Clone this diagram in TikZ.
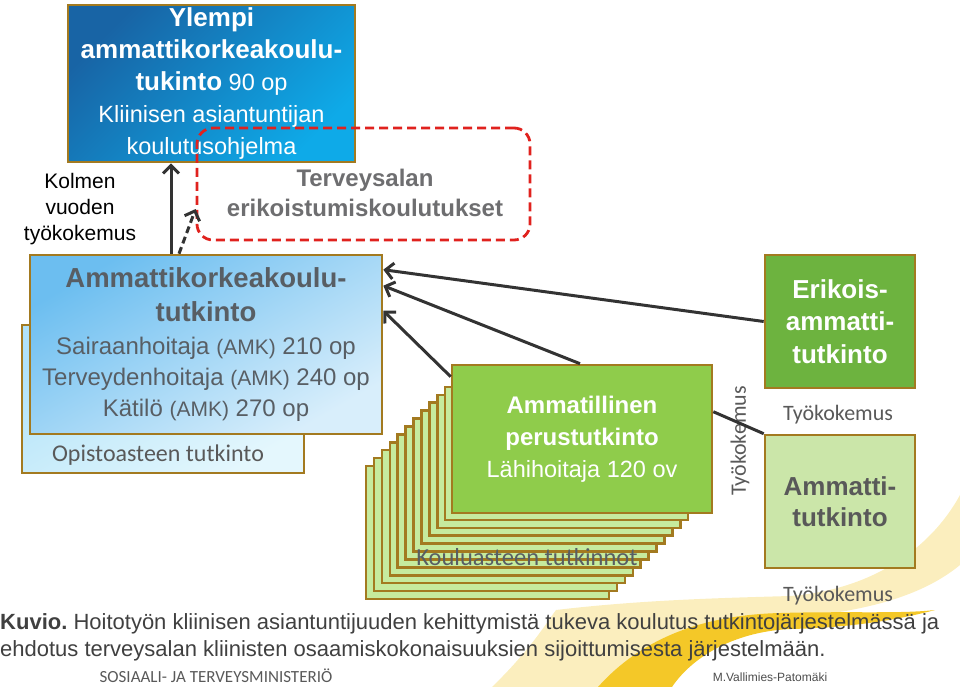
\documentclass[tikz,border=0pt]{standalone}
\usepackage{fontspec}
\setmainfont{Liberation Sans}
\newfontfamily\calib{Carlito}
\usetikzlibrary{arrows.meta}
\frenchspacing

\definecolor{kulta}{RGB}{163,122,32}
\definecolor{tummasin}{RGB}{24,100,165}
\definecolor{kirkassin}{RGB}{14,170,232}
\definecolor{amksin}{RGB}{108,190,240}
\definecolor{amkvaal}{RGB}{216,238,251}
\definecolor{opisto1}{RGB}{176,226,248}
\definecolor{opisto2}{RGB}{228,247,253}
\definecolor{vihrea}{RGB}{143,204,75}
\definecolor{vaalvihr}{RGB}{198,235,158}
\definecolor{tummvihr}{RGB}{109,179,63}
\definecolor{ammvihr}{RGB}{203,230,169}
\definecolor{harmaa}{RGB}{89,89,89}
\definecolor{amkteksti}{RGB}{88,94,100}
\definecolor{tekstiharmaa}{RGB}{110,110,112}
\definecolor{kuvioteksti}{RGB}{64,64,64}
\definecolor{punainen}{RGB}{224,34,30}
\definecolor{keltainen}{RGB}{244,200,40}
\definecolor{vaalkelt}{RGB}{251,238,190}

\begin{document}
\begin{tikzpicture}
        [x=1pt, y=-1pt,
        box/.style={draw=kulta, line width=2.6pt, align=center, inner sep=0pt},
        ylempiBox/.style={box, top color=tummasin, bottom color=kirkassin, shading angle=45, text=white,
                minimum width=287pt, minimum height=157pt, font=\fontsize{23.5}{32}\selectfont},
        amkBox/.style={box, top color=amksin, bottom color=amkvaal, shading angle=30, text=amkteksti,
                minimum width=352pt, minimum height=179pt, font=\fontsize{24}{31}\selectfont},
        opistoBox/.style={box, top color=opisto1, bottom color=opisto2, shading angle=30,
                minimum width=282pt, minimum height=148pt},
        perusBox/.style={box, fill=vihrea, text=white, minimum width=260pt, minimum height=148pt,
                font=\fontsize{23.5}{32}\selectfont},
        kerros/.style={draw=kulta, line width=2.6pt, fill=vaalvihr},
        erikBox/.style={box, fill=tummvihr, text=white, minimum width=150pt, minimum height=133pt,
                font=\bfseries\fontsize{26}{32.5}\selectfont},
        ammBox/.style={box, fill=ammvihr, text=harmaa, minimum width=150pt, minimum height=133pt,
                font=\bfseries\fontsize{26}{31}\selectfont},
        katko/.style={draw=punainen, line width=2.8pt, dash pattern=on 9pt off 5pt, rounded corners=16pt,
                minimum width=333pt, minimum height=112pt},
        tyo/.style={font=\calib\fontsize{22}{26}\selectfont, text=harmaa},
        nuoli/.style={draw=black!80, line width=3pt,
                -{Straight Barb[length=8pt,width=16pt,line width=3pt]}},
        linja/.style={draw=black!80, line width=3pt}]
%
\useasboundingbox (0,0) rectangle (960,687);
%%
%% Background swoosh
%%
\fill[vaalkelt] (492,687) .. controls (530,650) and (545,625) .. (556,610)
        .. controls (640,600) and (720,598) .. (790,596) .. controls (870,590) and (930,550) .. (960,495)
        -- (960,565) .. controls (920,598) and (860,612) .. (790,618)
        .. controls (720,625) and (650,660) .. (620,687) -- cycle;
\fill[keltainen] (598,687) .. controls (640,640) and (700,615) .. (780,613)
        .. controls (850,611) and (900,614) .. (935,610) .. controls (890,622) and (840,628) .. (790,629)
        .. controls (730,632) and (690,660) .. (672,687) -- cycle;
%%
%% Upper part
%%
\node[ylempiBox] (ylempi) at (211.5,83.5)
        {{\bfseries\fontsize{26}{32}\selectfont Ylempi}\\
        {\bfseries\fontsize{26}{32}\selectfont ammattikorkeakoulu-}\\
        {\bfseries\fontsize{26}{32}\selectfont tukinto} 90 op\\
        Kliinisen asiantuntijan\\
        koulutusohjelma};
\node[katko] (erik) at (363.5,184) {};
\node[font=\bfseries\fontsize{24}{30}\selectfont, text=tekstiharmaa, align=center] (erikTxt) at (365,193)
        {Terveysalan\\erikoistumiskoulutukset};
\node[font=\fontsize{21}{26}\selectfont, align=center] (kolmen) at (80,209) {Kolmen\\vuoden\\työkokemus};
%%
%% Ammattikorkeakoulu
%%
\node[opistoBox] (opisto) at (163,399) {};
\node[font=\calib\fontsize{24}{28}\selectfont, text=harmaa] (opistoTxt) at (158,455) {Opistoasteen tutkinto};
\node[amkBox] (amk) at (206,344.5)
        {{\bfseries\fontsize{27.5}{35}\selectfont Ammattikorkeakoulu-}\\[3pt]
        {\bfseries\fontsize{27.5}{35}\selectfont tutkinto}\\[2pt]
        Sairaanhoitaja {\fontsize{21}{31}\selectfont(AMK)} 210 op\\
        Terveydenhoitaja {\fontsize{21}{31}\selectfont(AMK)} 240 op\\
        Kätilö {\fontsize{21}{31}\selectfont(AMK)} 270 op};
%%
%% Kouluasteen tutkinnot
%%
\foreach \i in {11,...,1}
        \draw[kerros] ({453-7.9*\i},{379+7.9*\i}) rectangle +(243,133);
\node[font=\calib\fontsize{24.5}{28}\selectfont, text=amkteksti] (koulu) at (527,557) {Kouluasteen tutkinnot};
\node[perusBox] (perus) at (582,439)
        {{\bfseries\fontsize{24}{32}\selectfont Ammatillinen}\\
        {\bfseries\fontsize{24}{32}\selectfont perustutkinto}\\
        Lähihoitaja 120 ov};
%%
%% Right side
%%
\node[erikBox] (erikois) at (840,321.5) {Erikois-\\ammatti-\\tutkinto};
\node[ammBox] (ammatti) at (840,501.5) {Ammatti-\\tutkinto};
\node[tyo] (tyo1) at (838,415) {Työkokemus};
\node[tyo] (tyo2) at (838,596) {Työkokemus};
\node[tyo, rotate=90] (tyo3) at (740,441) {Työkokemus};
%%
%% Arrows
%%
\draw[nuoli] (erikois.west) -- ([yshift=-16pt]amk.north east);
\draw[nuoli] ([xshift=-2pt]perus.north) -- ([yshift=-32pt]amk.north east);
\draw[nuoli] ([yshift=-13pt]perus.north west) -- ([yshift=-57pt]amk.north east);
\draw[linja] ([yshift=-48pt]perus.north east) -- (ammatti.north west);
\draw[nuoli] ([xshift=-35pt]amk.north) -- ([xshift=-35pt]amk.north |- ylempi.south);
\draw[nuoli, dash pattern=on 7pt off 4pt] ([xshift=-27pt]amk.north) -- ([yshift=-25pt]erik.west);
%%
%% Caption
%%
\node[anchor=north west, inner sep=0pt, align=left, font=\fontsize{22}{27}\selectfont, text=kuvioteksti] (kuvio) at (0,613)
        {\textbf{Kuvio.} Hoitotyön kliinisen asiantuntijuuden kehittymistä tukeva koulutus tutkintojärjestelmässä ja\\
        ehdotus terveysalan kliinisten osaamiskokonaisuuksien sijoittumisesta järjestelmään.};
\node[font=\calib\fontsize{17}{20}\selectfont, text=black!65] (stm) at (216,676) {SOSIAALI- JA TERVEYSMINISTERIÖ};
\node[font=\fontsize{12}{14}\selectfont, text=black!70] (tekija) at (770,677) {M.Vallimies-Patomäki};
\end{tikzpicture}
\end{document}
